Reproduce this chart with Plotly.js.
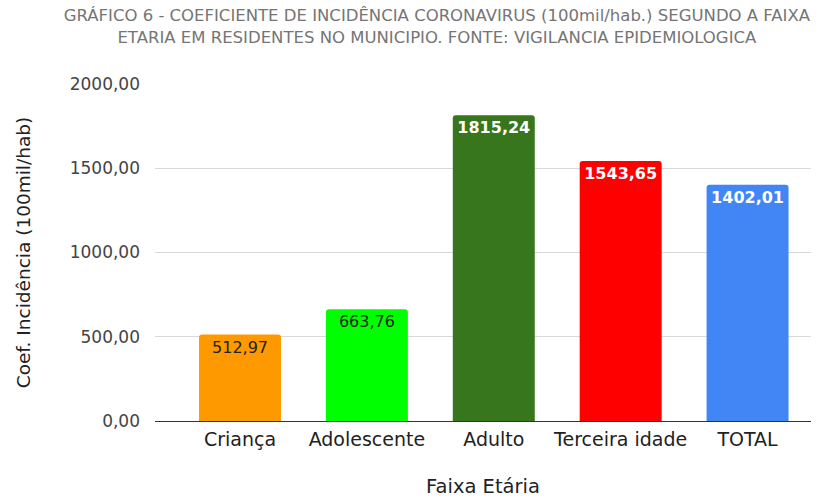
<!DOCTYPE html>
<html><head><meta charset="utf-8">
<script src="https://cdn.plot.ly/plotly-3.0.1.min.js"></script>
<style>html,body{margin:0;padding:0;background:#fff}#c{width:829px;height:504px}</style>
</head><body><div id="c"></div>
<script>
const categories = ["Criança", "Adolescente", "Adulto", "Terceira idade", "TOTAL"];
const values = [512.97, 663.76, 1815.24, 1543.65, 1402.01];
const barColors = ["#ff9900", "#00ff00", "#38761d", "#ff0000", "#4285f4"];
const labelColors = ["#222222", "#222222", "#ffffff", "#ffffff", "#ffffff"];
const labelWeights = ["normal", "normal", "bold", "bold", "bold"];
const yTicks = [0, 500, 1000, 1500, 2000];

const FONT = "DejaVu Sans, Arial, sans-serif";

const trace = {
  type: "bar",
  x: categories,
  y: values,
  width: 0.646,
  marker: {color: barColors, cornerradius: 3},
  texttemplate: "%{y:.2f}",
  textposition: "inside",
  insidetextanchor: "end",
  textangle: 0,
  constraintext: "none",
  textfont: {family: FONT, size: 16, color: labelColors, weight: labelWeights},
  hoverinfo: "none"
};

const layout = {
  width: 829, height: 504,
  separators: ",.",
  margin: {l: 155, r: 18, t: 84, b: 83},
  paper_bgcolor: "#fff", plot_bgcolor: "#fff",
  font: {family: FONT, color: "#444"},
  title: {
    text: "GRÁFICO 6 - COEFICIENTE DE INCIDÊNCIA CORONAVIRUS (100mil/hab.) SEGUNDO A FAIXA<br>ETARIA EM RESIDENTES NO MUNICIPIO. FONTE: VIGILANCIA EPIDEMIOLOGICA",
    font: {family: FONT, size: 16.5, color: "#757575"},
    x: 0.527, xanchor: "center", y: 0.958, yanchor: "top"
  },
  xaxis: {
    type: "category",
    range: [-0.67, 4.5],
    showgrid: false,
    showline: false,
    ticks: "",
    ticklabelstandoff: 5,
    tickfont: {family: FONT, size: 19, color: "#222"},
    title: {text: "Faixa Etária", font: {family: FONT, size: 19.5, color: "#222"}, standoff: 30}
  },
  yaxis: {
    range: [0, 2000],
    tickvals: yTicks,
    tickformat: ".2f",
    showgrid: true,
    gridcolor: "#d9d9d9",
    zeroline: true,
    zerolinecolor: "#333",
    zerolinewidth: 1,
    ticks: "",
    ticklabelstandoff: 14,
    tickfont: {family: FONT, size: 17, color: "#444"},
    title: {text: "Coef. Incidência (100mil/hab)", font: {family: FONT, size: 18.5, color: "#222"}, standoff: 34}
  },
  showlegend: false
};

Plotly.newPlot("c", [trace], layout, {displayModeBar: false, staticPlot: true});
</script>
</body></html>
